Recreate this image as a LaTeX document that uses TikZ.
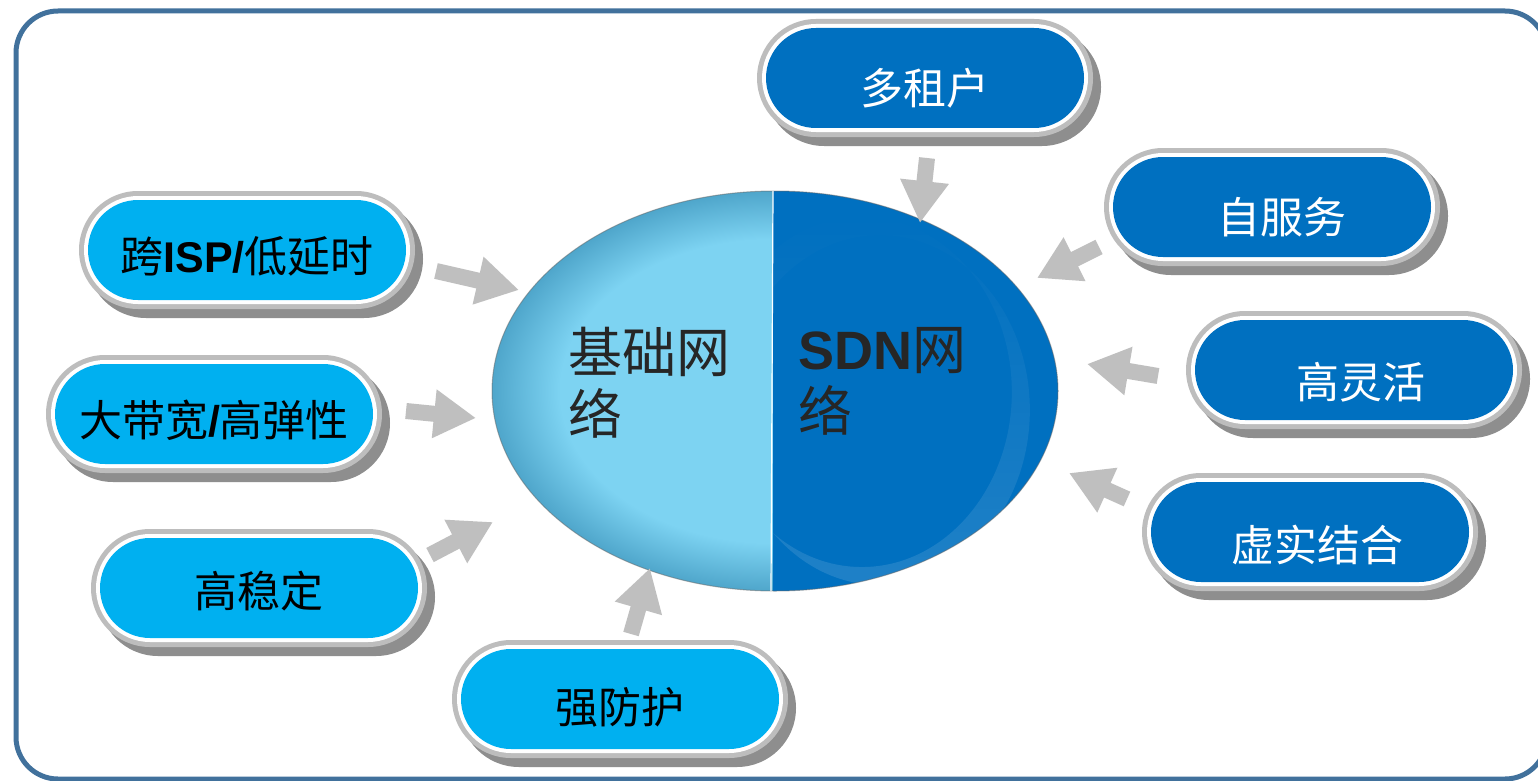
\documentclass[tikz,border=0pt]{standalone}
\usepackage{fontspec}
\setmainfont{Noto Sans CJK SC}
\newfontfamily\latinb{Liberation Sans}
\usetikzlibrary{shapes.misc,arrows.meta,fadings}
\definecolor{frameblue}{HTML}{41719C}
\definecolor{lightpill}{HTML}{00B0F0}
\definecolor{darkpill}{HTML}{0070C0}
\definecolor{rimgray}{HTML}{BDBDBD}
\definecolor{rimshadow}{HTML}{8E8E8E}
\definecolor{arrowgray}{HTML}{BFBFBF}
\definecolor{ellLight}{HTML}{7DD3F2}
\definecolor{ellEdge}{HTML}{4FA6CB}
\definecolor{txtdark}{HTML}{262626}
\pgfdeclareradialshading{ellshade}{\pgfpoint{0bp}{0bp}}{color(0bp)=(ellLight); color(19bp)=(ellLight); color(25bp)=(ellEdge); color(50bp)=(ellEdge)}
\tikzset{
  pillbase/.style={shape=rounded rectangle, inner sep=0pt, outer sep=0pt},
  pillshadow/.style={pillbase, fill=rimshadow, minimum width=336pt, minimum height=118pt},
  pillrim/.style={pillbase, fill=rimgray, minimum width=336pt, minimum height=118pt},
  pillring/.style={pillbase, fill=white, minimum width=326pt, minimum height=108pt},
  pillcore/.style={pillbase, minimum width=318pt, minimum height=100pt},
  pilltext/.style={inner sep=0pt, font=\fontsize{43}{50}\selectfont},
  blockarrow/.style={draw=arrowgray, line width=16pt, -{Triangle[length=42pt,width=46pt]}},
  coretext/.style={inner sep=0pt, align=left, text=txtdark, font=\fontsize{54}{62}\selectfont, anchor=north west}
}
% #1 name, #2 centre, #3 fill, #4 text colour, #5 text offset, #6 text
\newcommand{\mypill}[6]{%
  \node[pillshadow, shift={(8,9)}] (#1s) at (#2) {};
  \node[pillrim] (#1r) at (#2) {};
  \node[pillring] (#1w) at (#2) {};
  \node[pillcore, fill=#3] (#1) at (#2) {};
  \node[pilltext, text=#4, shift={(#5)}] (#1t) at (#2) {#6};
}
\begin{document}
\begin{tikzpicture}[x=1pt,y=-1pt]
\useasboundingbox (0,0) rectangle (1538,781);
\fill[white] (0,0) rectangle (1538,781);
% frame
\draw[frameblue, line width=5pt, rounded corners=42pt] (16,11) rectangle (1547,779);

% central ellipse
\coordinate (core) at (775,391);
\begin{scope}
  \clip (480,150) rectangle (773,640);
  \shade[shading=ellshade] (core) ellipse (283 and 200);
\end{scope}
\begin{scope}
  \clip (773,150) rectangle (1070,640);
  \fill[darkpill] (core) ellipse (283 and 200);
  \clip (core) ellipse (283 and 200);
  \fill[white, opacity=0.12, even odd rule, path fading=north] (880,410) ellipse (150 and 175) (862,392) ellipse (150 and 175);
\end{scope}
\draw[black!60, line width=1pt, opacity=0.5] (core) ellipse (283 and 200);
\draw[white, line width=1.2pt] (773,191) -- (771,591);
\node[coretext] (basic) at (568,327) {基础网\\络};
\node[coretext] (sdn) at (798,327) {{\latinb\bfseries SDN}网\\络};

% pills
\mypill{p1}{247,250}{lightpill}{black}{0,6}{跨{\latinb\bfseries ISP/}低延时}
\mypill{p2}{214,414}{lightpill}{black}{0,6}{大带宽{\latinb\bfseries /}高弹性}
\mypill{p3}{259,588}{lightpill}{black}{0,3}{高稳定}
\mypill{p4}{620,699}{lightpill}{black}{0,8}{强防护}
\mypill{p5}{925,78}{darkpill}{white}{0,10}{多租户}
\mypill{p6}{1272,207}{darkpill}{white}{10,10}{自服务}
\mypill{p7}{1354,370}{darkpill}{white}{7,12}{高灵活}
\mypill{p8}{1310,532}{darkpill}{white}{7,13}{虚实结合}

% arrows
\coordinate (a1t) at (436,271); \coordinate (a1h) at (519,290);
\coordinate (a2t) at (406,411); \coordinate (a2h) at (476,418);
\coordinate (a3t) at (430,555); \coordinate (a3h) at (493,522);
\coordinate (a4t) at (631,634); \coordinate (a4h) at (650,568);
\coordinate (a5t) at (927,158); \coordinate (a5h) at (920,223);
\coordinate (a6t) at (1099,247); \coordinate (a6h) at (1037,278);
\coordinate (a7t) at (1158,376); \coordinate (a7h) at (1087,364);
\coordinate (a8t) at (1127,499); \coordinate (a8h) at (1069,473);
\foreach \i in {1,...,8} { \draw[blockarrow] (a\i t) -- (a\i h); }
\end{tikzpicture}
\end{document}
